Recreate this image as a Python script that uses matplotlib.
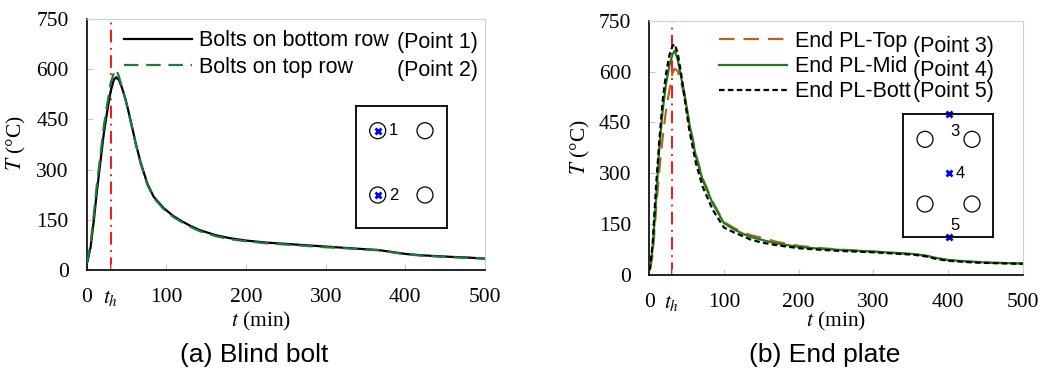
import matplotlib
matplotlib.use("Agg")
import matplotlib.pyplot as plt
from matplotlib.patches import Circle

plt.rcParams['mathtext.fontset'] = 'stix'

# (a) blind bolt, time (min) / temperature (C)
t_bolt = [0, 1, 5, 9, 13, 17.5, 21.5, 26, 30, 34, 37, 40.5, 44.5, 49, 55, 61.5, 68, 76, 84,
          97, 109, 120, 130, 142, 162, 180, 200, 225, 250, 275, 300, 325, 350, 365, 380,
          400, 420, 435, 460, 480, 500]
T_bottom = [20, 25, 70, 149, 239, 329, 408, 478, 533, 568, 576, 568, 543, 508, 448, 379,
            319, 259, 219, 184, 161, 145, 132, 119, 104, 95, 88, 82, 78, 74, 70, 66, 62,
            60, 55, 48, 44, 42, 39, 37, 34]
T_top = [20, 28, 80, 168, 260, 349, 430, 498, 558, 588, 600, 578, 545, 506, 445, 376, 316,
         256, 216, 181, 158, 142, 129, 116, 101, 92, 86, 80, 76, 72, 68, 65, 61, 59, 54,
         47, 43, 41, 38, 36, 34]

# (b) end plate
t_pl = [0, 1, 4.5, 9, 13.5, 18, 22.5, 27, 31, 34, 38, 42.5, 47, 53.5, 62.5, 71.5, 85, 100,
        114, 125, 135, 150, 170, 200, 225, 255, 300, 330, 353, 370, 385, 400, 433, 460, 500]
T_pl_top = [15, 18, 60, 192, 310, 408, 487, 546, 595, 608, 602, 568, 530, 450, 355, 285,
            215, 156, 138, 126, 118, 110, 98, 86, 80, 75, 69, 65, 62, 57, 50, 44, 39, 36, 34]
T_pl_mid = [15, 22, 80, 220, 378, 487, 565, 619, 650, 662, 635, 585, 536, 447, 349, 280,
            211, 153, 134, 122, 113, 104, 93, 83, 78, 74, 69, 65, 62, 57, 50, 44, 39, 36, 34]
T_pl_bott = [15, 20, 93, 260, 398, 516, 595, 649, 675, 681, 654, 595, 526, 428, 329, 260,
             192, 140, 125, 115, 105, 96, 88, 79, 75, 71, 67, 63, 60, 55, 47, 42, 37, 35, 33]

t_h = 30
xticks = [0, t_h, 100, 200, 300, 400, 500]
xticklabels = ['0', r'$t_h$', '100', '200', '300', '400', '500']
yticks = [0, 150, 300, 450, 600, 750]

serif = 'Liberation Serif'
sans = 'Liberation Sans'
fs = 15.5

fig = plt.figure(figsize=(10.46, 3.69), dpi=100)
W, H = 1046, 369


def px_axes(l, t, r, b):
    return fig.add_axes([l / W, 1 - b / H, (r - l) / W, (b - t) / H])


def style(ax):
    ax.set_xlim(0, 500)
    ax.set_ylim(0, 750)
    ax.set_xticks(xticks)
    ax.set_xticklabels(xticklabels)
    ax.set_yticks(yticks)
    for s in ['top', 'right']:
        ax.spines[s].set_color('#d0d0d0')
    for s in ['left', 'bottom']:
        ax.spines[s].set_color('black')
        ax.spines[s].set_linewidth(1.2)
    ax.tick_params(direction='in', length=4, color='#c8c8c8', pad=13, labelsize=fs)
    for lab in ax.get_xticklabels() + ax.get_yticklabels():
        lab.set_fontfamily(serif)
    ax.axvline(t_h, color='red', lw=1.3, ls=(0, (7, 3, 1, 3)), zorder=1)


def schematic(l, t, w, h, holes, marks, labels):
    ins = fig.add_axes([l / W, 1 - (t + h) / H, w / W, h / H])
    ins.set_xlim(0, w)
    ins.set_ylim(h, 0)
    ins.set_xticks([])
    ins.set_yticks([])
    for s in ins.spines.values():
        s.set_linewidth(1.3)
    for hx, hy in holes:
        ins.add_patch(Circle((hx, hy), 8, fill=False, lw=0.9, ec='black'))
    for mx, my in marks:
        ins.plot(mx, my, 'x', color='blue', ms=4, mew=2, clip_on=False)
    for lx, ly, s in labels:
        ins.text(lx, ly, s, fontsize=12, family=sans, va='center', ha='left')


# ---- (a) Blind bolt
ax1 = px_axes(86.7, 19, 485, 270)
style(ax1)
ax1.plot(t_bolt, T_bottom, color='black', lw=1.6, label='Bolts on bottom row', zorder=3)
l2, = ax1.plot(t_bolt, T_top, color='#1f7a3a', lw=1.6, label='Bolts on top row', zorder=4)
l2.set_dashes([6.5, 3.5])
ax1.legend(loc='upper left', bbox_to_anchor=(0.094, 0.955), frameon=False,
           prop={'family': sans, 'size': fs}, handlelength=3.15,
           handletextpad=0.35, labelspacing=0.25, borderaxespad=0, borderpad=0)
ax1.text(0.779, 0.906, '(Point 1)', transform=ax1.transAxes, family=sans, fontsize=fs,
         va='center')
ax1.text(0.779, 0.794, '(Point 2)', transform=ax1.transAxes, family=sans, fontsize=fs,
         va='center')
ax1.set_xlabel('$t$ (min)', fontsize=fs, family=serif)
ax1.xaxis.set_label_coords(0.4376, -0.16)
ax1.set_ylabel(r'$T$ (°C)', fontsize=fs, family=serif)
ax1.yaxis.set_label_coords(-0.147, 0.506)
fig.text(254 / W, 1 - 355 / H, '(a) Blind bolt', family=sans, fontsize=19,
         ha='center', va='center')

# ---- (b) End plate
ax2 = px_axes(649.3, 20.7, 1022.7, 275)
style(ax2)
b1, = ax2.plot(t_pl, T_pl_top, color='#b5651d', lw=1.6, label='End PL-Top', zorder=3)
b1.set_dashes([7, 4])
ax2.plot(t_pl, T_pl_mid, color='#1f7a1f', lw=1.6, label='End PL-Mid', zorder=4)
b3, = ax2.plot(t_pl, T_pl_bott, color='black', lw=1.6, label='End PL-Bott', zorder=5)
b3.set_dashes([2.5, 1.5])
ax2.legend(loc='upper left', bbox_to_anchor=(0.187, 0.96), frameon=False,
           prop={'family': sans, 'size': fs}, handlelength=3.15,
           handletextpad=0.37, labelspacing=0.2, borderaxespad=0, borderpad=0)
for yy, s in [(0.90, '(Point 3)'), (0.806, '(Point 4)'), (0.72, '(Point 5)')]:
    ax2.text(0.706, yy, s, transform=ax2.transAxes, family=sans, fontsize=fs, va='center')
ax2.set_xlabel('$t$ (min)', fontsize=fs, family=serif)
ax2.xaxis.set_label_coords(0.5, -0.138)
ax2.set_ylabel(r'$T$ (°C)', fontsize=fs, family=serif)
ax2.yaxis.set_label_coords(-0.153, 0.503)
fig.text(825 / W, 1 - 355 / H, '(b) End plate', family=sans, fontsize=19,
         ha='center', va='center')

# schematics of the plate with holes / measuring points
schematic(355.7, 106, 91, 121.7,
          [(22, 24.7), (69.3, 24.7), (22, 89), (69.3, 89)],
          [(22, 24.7), (22, 89)],
          [(33, 24.7, '1'), (33, 89, '2')])
schematic(903.3, 114.3, 90, 122.4,
          [(21.7, 25), (68.7, 25), (21.7, 89.7), (68.7, 89.7)],
          [(45.7, 0), (45.7, 58.4), (45.7, 122.4)],
          [(47, 17, '3'), (52, 59, '4'), (47.5, 111, '5')])

fig.savefig('out.png', dpi=100)
